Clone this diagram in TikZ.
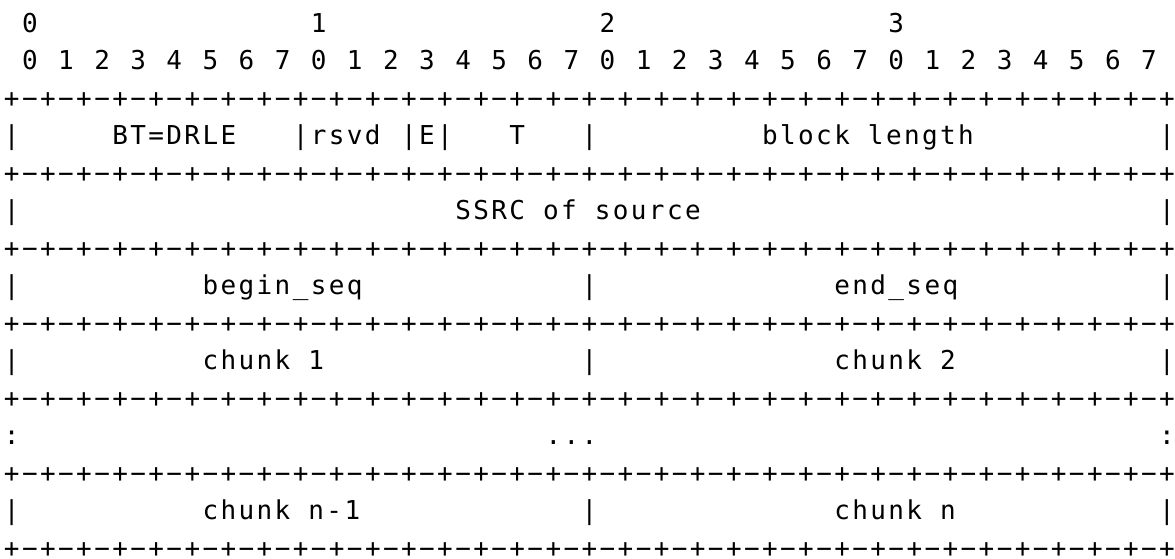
\documentclass[tikz,border=0pt]{standalone}
\usepackage{fontspec}
\newfontfamily\asciifont[LetterSpace=9.2]{DejaVu Sans Mono}
\usepackage{tikz}

\begin{document}
\begin{tikzpicture}[x=9.025pt, y=18.75pt,
		glyph/.style={inner sep=0pt, outer sep=0pt, anchor=base west,
			font=\asciifont\fontsize{13}{15.6}\selectfont},
		field/.style={glyph}
	]
	\useasboundingbox (-0.2216,0.8533) rectangle (64.875,-14.053);

	% octet and bit numbers
	\foreach \o in {0,...,3}
		\node[glyph] (octet\o) at (16*\o+1,0) {\o};
	\foreach \i in {0,...,31} {
		\pgfmathtruncatemacro{\d}{mod(\i,8)}
		\node[glyph] (bit\i) at (2*\i+1,-1) {\d};
	}

	% +-+-+ rules
	\foreach \r in {2,4,...,14} {
		\foreach \c in {0,2,...,64}
			\node[glyph] (plus\r-\c) at (\c,-\r) {+};
		\foreach \c in {1,3,...,63}
			\node[glyph] (dash\r-\c) at (\c,-\r) {\char"2212};
	}

	% separators
	\foreach \c in {0,16,22,24,32,64}
		\node[glyph] (bar3-\c) at (\c,-3) {|};
	\foreach \c in {0,64}
		\node[glyph] (bar5-\c) at (\c,-5) {|};
	\foreach \r in {7,9,13}
		\foreach \c in {0,32,64}
			\node[glyph] (bar\r-\c) at (\c,-\r) {|};
	\foreach \c in {0,64}
		\node[glyph] (colon11-\c) at (\c,-11) {:};

	% fields
	\node[field] (bt) at (6,-3) {BT=DRLE};
	\node[field] (rsvd) at (17,-3) {rsvd};
	\node[field] (e) at (23,-3) {E};
	\node[field] (t) at (28,-3) {T};
	\node[field] (blocklen) at (42,-3) {block length};
	\node[field] (ssrc) at (25,-5) {SSRC of source};
	\node[field] (beginseq) at (11,-7) {begin\_seq};
	\node[field] (endseq) at (46,-7) {end\_seq};
	\node[field] (chunk1) at (11,-9) {chunk 1};
	\node[field] (chunk2) at (46,-9) {chunk 2};
	\node[field] (dots) at (30,-11) {...};
	\node[field] (chunkn1) at (11,-13) {chunk n-1};
	\node[field] (chunkn) at (46,-13) {chunk n};
\end{tikzpicture}
\end{document}
